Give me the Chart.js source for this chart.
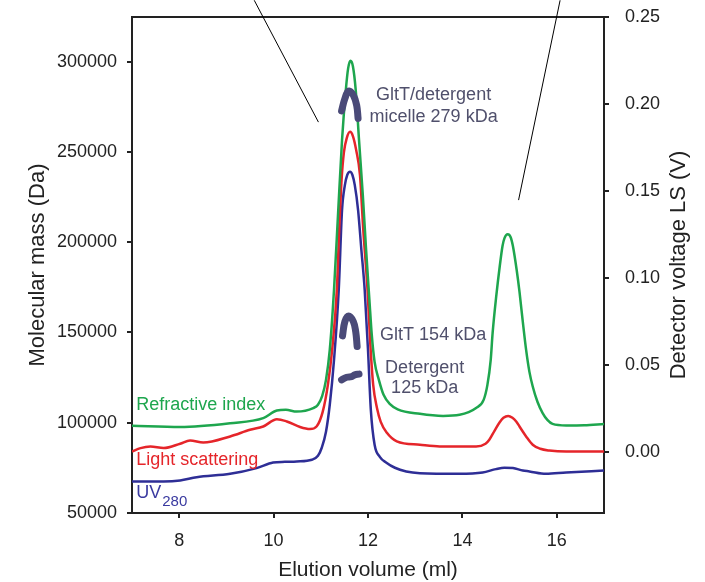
<!DOCTYPE html>
<html>
<head>
<meta charset="utf-8">
<script src="https://cdn.jsdelivr.net/npm/chart.js@4.4.1/dist/chart.umd.min.js"></script>
<style>
  html, body { margin: 0; padding: 0; background: #fff; }
</style>
</head>
<body>
<canvas id="sec" width="705" height="582"></canvas>
<script>
// Elution profile: detector traces (V) and molar mass across the peak (Da)
const riVolume = [7.00, 8.02, 9.08, 9.78, 10.07, 10.26, 10.49, 10.84, 10.94, 11.03, 11.11, 11.19, 11.28, 11.37, 11.45, 11.53, 11.58, 11.63, 11.68, 11.74, 11.81, 11.89, 11.96, 12.03, 12.08, 12.14, 12.23, 12.33, 12.46, 12.63, 13.10, 13.59, 13.94, 14.29, 14.45, 14.53, 14.60, 14.64, 14.72, 14.79, 14.85, 14.89, 14.96, 15.02, 15.07, 15.15, 15.21, 15.28, 15.35, 15.42, 15.49, 15.59, 15.70, 15.80, 15.91, 16.20, 16.58, 17.00];
const riSignal = [0.0151, 0.0144, 0.0166, 0.0195, 0.0239, 0.0243, 0.0233, 0.0253, 0.0272, 0.0323, 0.0415, 0.0587, 0.0932, 0.1392, 0.1793, 0.2080, 0.2206, 0.2248, 0.2217, 0.2080, 0.1793, 0.1477, 0.1161, 0.0874, 0.0673, 0.0518, 0.0415, 0.0329, 0.0277, 0.0246, 0.0220, 0.0208, 0.0214, 0.0253, 0.0300, 0.0386, 0.0530, 0.0683, 0.0903, 0.1065, 0.1184, 0.1228, 0.1251, 0.1236, 0.1184, 0.1046, 0.0920, 0.0748, 0.0587, 0.0461, 0.0377, 0.0289, 0.0224, 0.0185, 0.0162, 0.0153, 0.0154, 0.0162];

const lsVolume = [7.00, 7.18, 7.39, 7.67, 8.02, 8.23, 8.51, 9.08, 9.50, 9.78, 10.07, 10.28, 10.56, 10.77, 10.91, 11.04, 11.15, 11.24, 11.34, 11.39, 11.44, 11.49, 11.55, 11.62, 11.68, 11.75, 11.83, 11.90, 11.99, 12.05, 12.11, 12.19, 12.27, 12.40, 12.61, 13.10, 13.52, 14.29, 14.49, 14.57, 14.68, 14.79, 14.87, 14.97, 15.06, 15.14, 15.21, 15.35, 15.49, 15.65, 15.84, 16.20, 17.00];
const lsSignal = [0.0003, 0.0023, 0.0032, 0.0023, 0.0048, 0.0067, 0.0055, 0.0090, 0.0128, 0.0147, 0.0189, 0.0176, 0.0144, 0.0132, 0.0147, 0.0231, 0.0386, 0.0587, 0.0932, 0.1277, 0.1564, 0.1724, 0.1804, 0.1840, 0.1816, 0.1735, 0.1592, 0.1277, 0.0932, 0.0616, 0.0386, 0.0254, 0.0174, 0.0111, 0.0062, 0.0042, 0.0032, 0.0032, 0.0048, 0.0071, 0.0122, 0.0171, 0.0197, 0.0208, 0.0197, 0.0176, 0.0147, 0.0090, 0.0042, 0.0019, 0.0009, 0.0003, 0.0003];

const uvVolume = [7.00, 7.67, 8.02, 8.37, 9.08, 9.64, 9.99, 10.24, 10.49, 10.81, 10.94, 11.02, 11.11, 11.19, 11.28, 11.38, 11.45, 11.51, 11.56, 11.62, 11.67, 11.72, 11.79, 11.86, 11.93, 12.00, 12.06, 12.14, 12.25, 12.39, 12.57, 12.81, 13.10, 13.94, 14.43, 14.71, 14.89, 15.07, 15.28, 15.42, 15.77, 16.20, 17.00];
const uvSignal = [-0.0169, -0.0169, -0.0163, -0.0144, -0.0125, -0.0092, -0.0060, -0.0056, -0.0054, -0.0044, -0.0021, 0.0025, 0.0117, 0.0272, 0.0530, 0.0932, 0.1391, 0.1534, 0.1592, 0.1611, 0.1592, 0.1534, 0.1391, 0.1161, 0.0932, 0.0587, 0.0243, 0.0042, -0.0027, -0.0061, -0.0090, -0.0111, -0.0121, -0.0125, -0.0117, -0.0098, -0.0090, -0.0092, -0.0106, -0.0111, -0.0125, -0.0117, -0.0106];

// molar mass readings across the main peak
const massTopVolume = [11.44, 11.51, 11.59, 11.69, 11.76, 11.79];
const massTopDa = [272700, 279500, 283700, 281400, 275800, 268500];
const massMidVolume = [11.46, 11.51, 11.59, 11.69, 11.74, 11.77];
const massMidDa = [148100, 156000, 159100, 156000, 150400, 142200];
const massLowVolume = [11.44, 11.55, 11.65, 11.72, 11.81];
const massLowDa = [123700, 125200, 125500, 126500, 126900];

const volumeTicks = [8, 10, 12, 14, 16];
const massTicks = [50000, 100000, 150000, 200000, 250000, 300000];
const voltTicks = [0, 0.05, 0.10, 0.15, 0.20, 0.25];

const FONT = "'Liberation Sans', Arial, sans-serif";
const GREEN = '#1ea64e';
const RED = '#e5252a';
const BLUE = '#2e2e96';
const SLATE = '#4a4a78';
const INK = '#222';

const toPoints = (xs, ys) => xs.map((x, i) => ({ x, y: ys[i] }));

// text placed in axis units (elution ml, detector V)
const notes = [
  { text: 'GltT/detergent', x: 13.39, y: 0.2022, align: 'center', color: '#50506c' },
  { text: 'micelle 279 kDa', x: 13.39, y: 0.1896, align: 'center', color: '#50506c' },
  { text: 'GltT 154 kDa', x: 13.38, y: 0.0645, align: 'center', color: '#50506c' },
  { text: 'Detergent', x: 13.20, y: 0.0455, align: 'center', color: '#50506c' },
  { text: '125 kDa', x: 13.20, y: 0.0338, align: 'center', color: '#50506c' },
  { text: 'Refractive index', x: 7.09, y: 0.0243, align: 'left', color: GREEN },
  { text: 'Light scattering', x: 7.09, y: -0.0073, align: 'left', color: RED },
];

const pointers = [
  { from: [9.59, 0.2596], to: [10.95, 0.1896] },
  { from: [16.07, 0.2596], to: [15.19, 0.1448] },
];

const axisGrid = { drawOnChartArea: false, drawTicks: true, tickLength: 5, color: INK, lineWidth: 2 };
const axisBorder = { display: true, color: INK, width: 2 };
const tickFont = { family: FONT, size: 18 };

// keep the plot box fixed instead of growing it around the end labels
const fixWidth = w => s => { s.width = w; s.paddingTop = 0; s.paddingBottom = 0; };

const overlay = {
  id: 'overlay',
  afterDraw(chart) {
    const { ctx, chartArea: a, scales } = chart;
    const px = v => scales.x.getPixelForValue(v);
    const py = v => scales.yLs.getPixelForValue(v);
    ctx.save();

    // closing line along the top of the frame
    ctx.strokeStyle = INK;
    ctx.lineWidth = 2;
    ctx.beginPath();
    ctx.moveTo(a.left - 1, a.top);
    ctx.lineTo(a.right + 1, a.top);
    ctx.stroke();

    ctx.strokeStyle = '#000';
    ctx.lineWidth = 1;
    pointers.forEach(p => {
      ctx.beginPath();
      ctx.moveTo(px(p.from[0]), py(p.from[1]));
      ctx.lineTo(px(p.to[0]), py(p.to[1]));
      ctx.stroke();
    });

    ctx.textBaseline = 'alphabetic';
    ctx.font = `18px ${FONT}`;
    notes.forEach(n => {
      ctx.fillStyle = n.color;
      ctx.textAlign = n.align;
      ctx.fillText(n.text, px(n.x), py(n.y));
    });

    // UV280 with subscript
    ctx.textAlign = 'left';
    ctx.fillStyle = '#3a3aa0';
    const ux = px(7.09);
    ctx.fillText('UV', ux, py(-0.0262));
    const uw = ctx.measureText('UV').width;
    ctx.font = `15px ${FONT}`;
    ctx.fillText('280', ux + uw + 1, py(-0.0312));

    // axis titles
    ctx.fillStyle = INK;
    ctx.font = `21px ${FONT}`;
    ctx.textAlign = 'center';
    ctx.fillText('Elution volume (ml)', (a.left + a.right) / 2, 576);

    ctx.font = `22px ${FONT}`;
    ctx.textBaseline = 'middle';
    const mid = (a.top + a.bottom) / 2;
    ctx.save();
    ctx.translate(38, mid);
    ctx.rotate(-Math.PI / 2);
    ctx.fillText('Molecular mass (Da)', 0, 0);
    ctx.restore();
    ctx.save();
    ctx.translate(679, mid);
    ctx.rotate(-Math.PI / 2);
    ctx.fillText('Detector voltage LS (V)', 0, 0);
    ctx.restore();

    ctx.restore();
  }
};

const traceStyle = { pointRadius: 0, borderWidth: 2.5, cubicInterpolationMode: 'monotone', yAxisID: 'yLs' };
const massStyle = { pointRadius: 0, borderWidth: 7, borderColor: SLATE, borderCapStyle: 'round', borderJoinStyle: 'round', tension: 0.4, yAxisID: 'yMass' };

new Chart(document.getElementById('sec'), {
  type: 'line',
  data: {
    datasets: [
      { label: 'GltT/detergent micelle', data: toPoints(massTopVolume, massTopDa), ...massStyle },
      { label: 'GltT', data: toPoints(massMidVolume, massMidDa), ...massStyle },
      { label: 'Detergent', data: toPoints(massLowVolume, massLowDa), ...massStyle },
      { label: 'Refractive index', data: toPoints(riVolume, riSignal), borderColor: GREEN, ...traceStyle },
      { label: 'Light scattering', data: toPoints(lsVolume, lsSignal), borderColor: RED, ...traceStyle },
      { label: 'UV280', data: toPoints(uvVolume, uvSignal), borderColor: BLUE, ...traceStyle },
    ]
  },
  options: {
    responsive: false,
    animation: false,
    layout: { padding: { top: 17, left: 0, right: 0, bottom: 0 } },
    plugins: { legend: { display: false }, tooltip: { enabled: false } },
    scales: {
      x: {
        type: 'linear',
        min: 7,
        max: 17,
        afterBuildTicks: s => { s.ticks = volumeTicks.map(value => ({ value })); },
        afterFit: s => { s.height = 69; s.paddingLeft = 0; s.paddingRight = 0; },
        grid: axisGrid,
        border: axisBorder,
        ticks: { font: tickFont, color: INK, padding: 12, maxRotation: 0, callback: v => String(v) }
      },
      yMass: {
        position: 'left',
        min: 50000,
        max: 324700,
        afterBuildTicks: s => { s.ticks = massTicks.map(value => ({ value })); },
        afterFit: fixWidth(132),
        grid: axisGrid,
        border: axisBorder,
        ticks: { font: tickFont, color: INK, padding: 10, callback: v => String(v) }
      },
      yLs: {
        position: 'right',
        min: -0.035,
        max: 0.25,
        afterBuildTicks: s => { s.ticks = voltTicks.map(value => ({ value })); },
        afterFit: fixWidth(101),
        grid: axisGrid,
        border: axisBorder,
        ticks: { font: tickFont, color: INK, padding: 16, callback: v => v.toFixed(2) }
      }
    }
  },
  plugins: [overlay]
});
</script>
</body>
</html>
